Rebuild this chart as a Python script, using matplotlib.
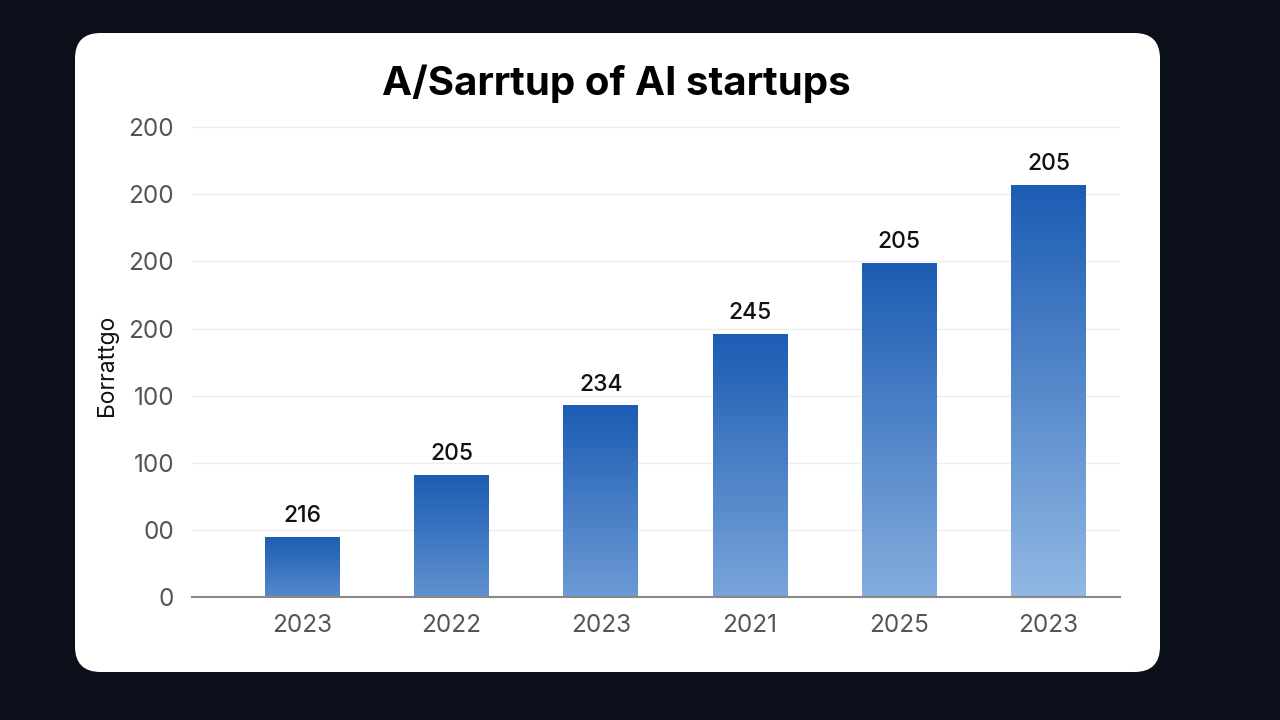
import matplotlib.pyplot as plt
import numpy as np
from matplotlib.patches import FancyBboxPatch
from matplotlib.colors import LinearSegmentedColormap

plt.rcParams['font.family'] = ['Inter', 'DejaVu Sans']

# data
years = ['2023', '2022', '2023', '2021', '2025', '2023']
heights = [45, 91, 143, 196, 249, 307]
bar_labels = ['216', '205', '234', '245', '205', '205']
ytick_vals = [0, 50, 100, 150, 200, 250, 300, 350]
ytick_text = ['0', '00', '100', '100', '200', '200', '200', '200']

bg = '#0b0f19'
fig = plt.figure(figsize=(12.8, 7.2), dpi=100, facecolor=bg)

card = FancyBboxPatch((75/1280, 48/720), (1160-75)/1280, (687-48)/720,
                      boxstyle='round,pad=0,rounding_size=0.02',
                      transform=fig.transFigure, facecolor='white',
                      edgecolor='none', mutation_aspect=1280/720, zorder=-1)
fig.patches.append(card)

ax = fig.add_axes([192/1280, 123/720, (1120-192)/1280, (597-103)/720])
ax.set_facecolor('none')

x = np.arange(len(years))
w = 0.5

top_c = np.array([0x1c, 0x5c, 0xb3]) / 255
bot_c = np.array([0x92, 0xb8, 0xe4]) / 255
hmax = max(heights)
for xi, h, lab in zip(x, heights, bar_labels):
    f = 0.4 + 0.6 * h / hmax
    bc = top_c + (bot_c - top_c) * f
    cmap = LinearSegmentedColormap.from_list('g', [bc, top_c])
    grad = np.linspace(0, 1, 256).reshape(-1, 1)
    im = ax.imshow(grad, cmap=cmap, aspect='auto', origin='lower',
                   extent=(xi - w/2, xi + w/2, 0, h), zorder=2)
    bar = ax.bar(xi, h, width=w, color='none', edgecolor='none', zorder=2)[0]
    im.set_clip_path(bar)
    ax.text(xi, h + 7, lab, ha='center', va='bottom', fontsize=16.5,
            fontweight='medium', color='#111111', zorder=3)

ax.set_xlim(-0.74, 5.48)
ax.set_ylim(0, 368)

ax.set_yticks(ytick_vals)
ax.set_yticklabels(ytick_text)
ax.set_xticks(x)
ax.set_xticklabels(years)
ax.tick_params(axis='both', length=0, labelsize=17.5, labelcolor='#555555')
ax.tick_params(axis='y', pad=13)
ax.tick_params(axis='x', pad=12)

ax.grid(axis='y', color='#eeeeee', linewidth=1, zorder=0)
ax.set_axisbelow(True)
for s in ['top', 'right', 'left']:
    ax.spines[s].set_visible(False)
ax.spines['bottom'].set_color('#888888')
ax.spines['bottom'].set_linewidth(1.5)

fig.text(107/1280, 1 - 365/720, 'Бorrattgo', rotation=90, ha='center',
         va='center', fontsize=16.5, color='#111111')

fig.text(616/1280, 1 - 84/720, 'A/Sarrtup of AI startups', ha='center',
         va='center', fontsize=29, fontweight='bold', color='black')

fig.savefig('out.png', dpi=100, facecolor=bg)
